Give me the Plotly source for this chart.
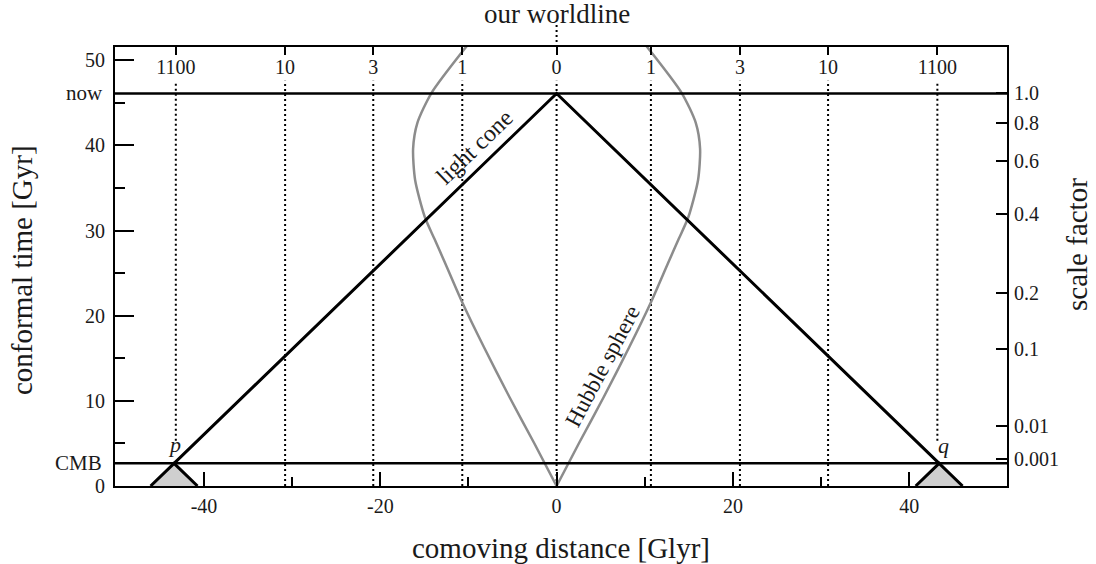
import plotly.graph_objects as go

# ---------------- data ----------------
x_range = [-50.1, 51.1]          # comoving distance [Glyr]
t_range = [0, 51.56]             # conformal time [Gyr]

t_now = 46.1
t_cmb = 2.66
d_cmb = 43.4

# comoving worldlines labelled by redshift
z_labels = ["1100", "10", "3", "1", "0", "1", "3", "10", "1100"]
z_dist = [-43.2, -30.8, -20.8, -10.7, 0, 10.7, 20.8, 30.8, 43.2]
z_line_bottom = [5.3, 0, 0, 0, 0, 0, 0, 0, 5.3]
z_line_top = 47.6

# Hubble sphere: radius vs conformal time
hubble_t = [0, 5.05, 10.45, 16.32, 21.61, 26.19, 29.0, 31.59, 35.94, 39.6, 42.63, 46.15, 51.79]
hubble_r = [0, 2.55, 5.35, 8.25, 10.72, 12.65, 13.85, 14.95, 16.05, 16.28, 15.8, 14.2, 10.1]

# scale factor (right axis)
a_labels = ["1.0", "0.8", "0.6", "0.4", "0.2", "0.1", "0.01", "0.001"]
a_time = [46.1, 42.69, 38.15, 31.89, 22.69, 16.04, 7.04, 3.17]

x_major = [-40, -20, 0, 20, 40]
x_major_text = ["-40", "-20", "0", "20", "40"]
x_minor = [-30, -10, 10, 30]
t_major = [0, 10, 20, 30, 40, 50]
t_minor = [5, 15, 25, 35, 45]

FONT = "Liberation Serif"
INK = "#1a1a1a"
GREY = "#8c8c8c"

fig = go.Figure()

# dotted comoving worldlines
wx, wy = [], []
for xd, yb in zip(z_dist, z_line_bottom):
    wx += [xd, xd, None]
    wy += [yb, z_line_top, None]
fig.add_trace(go.Scatter(x=wx, y=wy, mode="lines",
                         line=dict(color="black", width=2, dash="2px,3px"),
                         hoverinfo="skip", showlegend=False))

# Hubble sphere (two branches)
for s in (-1, 1):
    fig.add_trace(go.Scatter(x=[s * r for r in hubble_r], y=hubble_t, mode="lines",
                             line=dict(color=GREY, width=2.5, shape="spline", smoothing=0.7),
                             showlegend=False))

# past light cones of p and q (grey triangles)
for s in (-1, 1):
    fig.add_trace(go.Scatter(
        x=[s * d_cmb - t_cmb, s * d_cmb, s * d_cmb + t_cmb],
        y=[0, t_cmb, 0], mode="lines", fill="toself",
        fillcolor="#cfcfcf", line=dict(color="black", width=3),
        showlegend=False))

# our past light cone
fig.add_trace(go.Scatter(x=[-d_cmb, 0, d_cmb], y=[t_cmb, t_now, t_cmb],
                         mode="lines", line=dict(color="black", width=3),
                         showlegend=False))

# helper trace to activate the secondary axes
fig.add_trace(go.Scatter(x=[None], y=[None], xaxis="x2", yaxis="y2", showlegend=False))

shapes = [
    dict(type="line", xref="paper", yref="y", x0=0, x1=1, y0=t_now, y1=t_now,
         line=dict(color="black", width=2.5), layer="above"),
    dict(type="line", xref="paper", yref="y", x0=0, x1=1, y0=t_cmb, y1=t_cmb,
         line=dict(color="black", width=2.5), layer="above"),
    dict(type="line", xref="x", yref="paper", x0=0, x1=0, y0=1.0, y1=1.05,
         line=dict(color="black", width=2, dash="2px,3px")),
]

annotations = [
    dict(text="our worldline", x=0, xref="x", y=1.0, yref="paper", yanchor="bottom",
         yshift=16, showarrow=False, font=dict(size=27, family=FONT, color=INK)),
    dict(text="now", x=0, xref="paper", xanchor="right", xshift=-10, y=t_now, yref="y",
         showarrow=False, font=dict(size=21, family=FONT, color=INK)),
    dict(text="CMB", x=0, xref="paper", xanchor="right", xshift=-11, y=t_cmb, yref="y",
         showarrow=False, font=dict(size=21, family=FONT, color=INK)),
    dict(text="light cone", x=-9.3, y=39.8, xref="x", yref="y", textangle=-44,
         showarrow=False, font=dict(size=24, family=FONT, color=INK)),
    dict(text="Hubble sphere", x=5.3, y=14.1, xref="x", yref="y", textangle=-62,
         showarrow=False, font=dict(size=23, family=FONT, color=INK)),
    dict(text="<i>p</i>", x=-d_cmb, y=t_cmb, xref="x", yref="y", yanchor="bottom",
         yshift=4, showarrow=False, font=dict(size=22, family=FONT, color=INK)),
    dict(text="<i>q</i>", x=d_cmb, y=t_cmb, xref="x", yref="y", yanchor="bottom",
         xshift=4, yshift=3, showarrow=False, font=dict(size=22, family=FONT, color=INK)),
    dict(text="conformal time [Gyr]", x=0, xref="paper", xshift=-111, y=0.492, yref="paper",
         textangle=-90, showarrow=False, font=dict(size=29, family=FONT, color=INK)),
    dict(text="comoving distance [Glyr]", x=0.5, xref="paper", y=0, yref="paper",
         yshift=-62, yanchor="middle", showarrow=False,
         font=dict(size=29, family=FONT, color=INK)),
    dict(text="scale factor", x=1, xref="paper", xshift=88, y=0.549, yref="paper",
         textangle=-90, showarrow=False, font=dict(size=29, family=FONT, color=INK)),
]

tickfont = dict(size=20, family=FONT, color=INK)

fig.update_layout(
    width=1096, height=564,
    margin=dict(l=115, r=89, t=47, b=78),
    plot_bgcolor="white", paper_bgcolor="white",
    font=dict(family=FONT, color=INK),
    showlegend=False,
    shapes=shapes, annotations=annotations,
    xaxis=dict(range=x_range, showgrid=False, zeroline=False,
               showline=True, linecolor="black", linewidth=2, mirror=True,
               ticks="inside", tickvals=x_major, ticktext=x_major_text,
               ticklen=14, tickwidth=2, tickcolor="black", tickfont=tickfont,
               ticklabelstandoff=1,
               minor=dict(tickvals=x_minor, ticks="inside", ticklen=9,
                          tickwidth=2, tickcolor="black")),
    yaxis=dict(range=t_range, showgrid=False, zeroline=False,
               showline=True, linecolor="black", linewidth=2, mirror=True,
               ticks="inside", tickvals=t_major, ticklen=19, tickwidth=2,
               tickcolor="black", tickfont=tickfont, ticklabelstandoff=4,
               minor=dict(tickvals=t_minor, ticks="inside", ticklen=10,
                          tickwidth=2, tickcolor="black")),
    xaxis2=dict(range=x_range, overlaying="x", side="top", showgrid=False,
                zeroline=False, showline=False,
                ticks="inside", tickvals=z_dist, ticktext=z_labels,
                ticklen=8, tickwidth=2, tickcolor="black", tickfont=tickfont,
                ticklabelposition="inside", ticklabelstandoff=6),
    yaxis2=dict(range=t_range, overlaying="y", side="right", showgrid=False,
                zeroline=False, showline=False,
                ticks="inside", tickvals=a_time, ticktext=a_labels,
                ticklen=11, tickwidth=2, tickcolor="black", tickfont=tickfont,
                ticklabelstandoff=6),
)

fig.write_html("out.html",
               config={"displayModeBar": False},
               post_script="document.body.style.margin='0px';"
                           "document.body.style.overflow='hidden';")
